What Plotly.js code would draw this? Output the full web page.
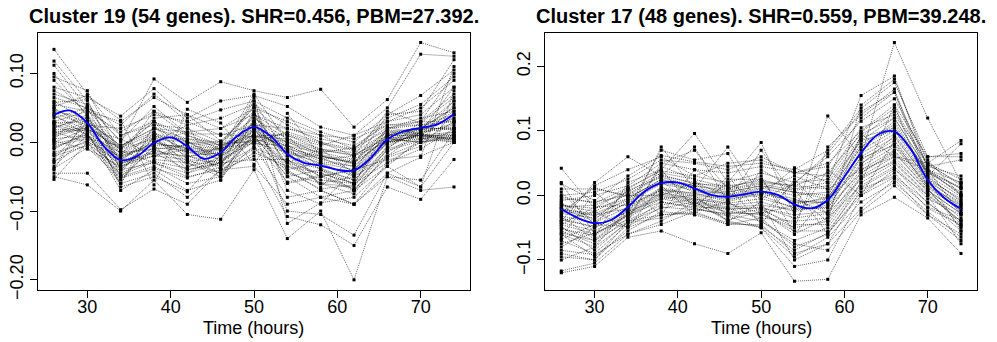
<!DOCTYPE html>
<html>
<head>
<meta charset="utf-8">
<script src="https://cdn.plot.ly/plotly-3.0.1.min.js"></script>
<style>html,body{margin:0;padding:0;background:#fff;}#chart{width:997px;height:342px;}</style>
</head>
<body>
<div id="chart"></div>
<script>
// Time points (hours)
const times = [26, 30, 34, 38, 42, 46, 50, 54, 58, 62, 66, 70, 74];

// Cluster 19: 54 gene profiles (values at each time point)
const cluster19 = [
  [0.135, 0.070, 0.010, 0.030, -0.020, -0.030, 0.040, 0.010, -0.040, -0.060, 0.010, 0.020, 0.050],
  [0.118, 0.060, -0.030, 0.020, 0.000, -0.020, 0.060, -0.020, -0.050, -0.070, -0.010, 0.030, 0.100],
  [0.112, 0.050, -0.040, 0.000, -0.010, -0.040, 0.030, -0.030, -0.060, -0.050, 0.000, 0.010, 0.060],
  [0.095, 0.075, -0.020, 0.045, 0.010, -0.010, 0.070, 0.000, -0.020, -0.030, 0.020, 0.025, 0.040],
  [0.090, 0.040, -0.050, -0.010, -0.030, -0.050, 0.020, -0.040, -0.070, -0.090, -0.030, 0.000, 0.030],
  [0.060, 0.030, -0.060, 0.010, -0.040, -0.030, 0.010, -0.050, -0.080, -0.070, -0.020, 0.015, 0.020],
  [0.055, 0.045, 0.030, 0.065, 0.040, 0.020, 0.050, 0.030, 0.010, -0.010, 0.030, 0.040, 0.080],
  [0.050, 0.020, -0.010, 0.005, 0.000, -0.010, 0.015, -0.010, -0.020, -0.030, 0.005, 0.010, 0.010],
  [0.045, 0.035, -0.025, 0.000, -0.015, -0.020, 0.025, -0.020, -0.035, -0.045, 0.000, 0.020, 0.035],
  [0.042, 0.025, -0.015, 0.010, -0.010, -0.015, 0.020, -0.015, -0.030, -0.040, 0.005, 0.015, 0.025],
  [0.040, 0.010, -0.035, -0.020, -0.025, -0.030, 0.005, -0.030, -0.045, -0.060, -0.010, 0.005, 0.015],
  [0.035, 0.050, 0.010, 0.025, 0.020, 0.000, 0.035, 0.005, -0.010, -0.020, 0.015, 0.020, 0.050],
  [0.030, 0.015, -0.020, -0.005, -0.005, -0.010, 0.010, -0.005, -0.025, -0.035, 0.010, 0.010, 0.005],
  [0.028, 0.030, -0.045, 0.015, -0.035, -0.025, 0.030, -0.060, -0.050, -0.040, 0.020, 0.030, 0.070],
  [0.025, 0.005, -0.005, 0.020, 0.005, 0.000, 0.000, 0.015, 0.000, -0.020, 0.000, 0.005, 0.000],
  [0.020, 0.040, -0.030, -0.015, -0.020, -0.035, 0.045, -0.070, -0.090, -0.040, 0.010, 0.010, 0.040],
  [0.018, 0.020, -0.010, 0.030, 0.010, -0.005, 0.020, 0.000, -0.015, -0.025, 0.010, 0.020, 0.020],
  [0.015, 0.000, -0.040, -0.030, -0.050, -0.040, -0.010, -0.040, -0.030, -0.050, -0.020, 0.000, 0.010],
  [0.010, 0.025, 0.020, 0.040, 0.030, 0.010, 0.025, 0.020, 0.005, -0.005, 0.025, 0.025, 0.030],
  [0.005, 0.010, -0.015, -0.010, -0.005, -0.020, 0.005, -0.010, -0.040, -0.055, 0.000, 0.010, 0.015],
  [0.000, 0.020, -0.025, 0.005, -0.020, -0.015, 0.040, -0.025, -0.060, -0.065, -0.005, 0.015, 0.045],
  [-0.005, 0.005, -0.030, -0.020, -0.010, -0.025, 0.000, -0.015, -0.020, -0.030, 0.005, 0.000, 0.005],
  [-0.010, 0.015, -0.070, -0.040, -0.070, -0.055, 0.015, -0.100, -0.105, -0.135, -0.045, -0.022, 0.110],
  [-0.015, 0.000, -0.020, 0.000, 0.015, -0.005, 0.010, 0.010, -0.010, -0.015, 0.015, 0.010, 0.000],
  [-0.020, -0.005, -0.045, -0.025, -0.030, -0.045, -0.015, -0.035, -0.045, -0.060, -0.030, -0.010, 0.020],
  [-0.025, 0.030, -0.005, 0.015, -0.015, -0.010, 0.030, -0.005, -0.025, -0.020, 0.010, 0.020, 0.060],
  [-0.030, 0.020, -0.055, -0.005, -0.045, -0.030, 0.020, -0.045, -0.060, -0.075, -0.015, 0.015, 0.080],
  [-0.035, 0.010, -0.050, -0.035, -0.060, -0.050, -0.005, -0.080, -0.070, -0.090, -0.050, -0.055, 0.015],
  [-0.040, 0.040, -0.010, 0.030, 0.000, 0.000, 0.050, 0.010, -0.005, 0.010, 0.030, 0.050, 0.090],
  [-0.045, -0.045, -0.098, -0.068, -0.090, -0.040, -0.020, -0.108, -0.120, -0.150, -0.065, -0.083, -0.025],
  [-0.050, -0.062, -0.100, -0.055, -0.105, -0.112, -0.040, -0.140, -0.100, -0.200, -0.050, -0.070, -0.065],
  [-0.054, 0.000, -0.060, -0.045, -0.080, -0.040, -0.035, -0.090, -0.080, -0.090, -0.045, -0.065, 0.000],
  [0.070, 0.055, 0.000, 0.092, 0.058, 0.088, 0.075, 0.065, 0.077, 0.022, 0.062, 0.145, 0.130],
  [0.080, 0.065, 0.038, 0.078, 0.035, 0.060, 0.068, 0.052, 0.022, 0.010, 0.050, 0.128, 0.125],
  [0.065, 0.050, 0.025, 0.070, 0.030, 0.047, 0.060, 0.035, 0.015, 0.000, 0.040, 0.068, 0.105],
  [0.030, 0.045, 0.015, 0.045, 0.025, 0.035, 0.055, 0.025, 0.000, -0.010, 0.035, 0.055, 0.095],
  [0.012, 0.030, -0.005, 0.020, 0.015, 0.020, 0.040, 0.020, 0.010, 0.005, 0.025, 0.030, 0.030],
  [0.002, -0.010, -0.035, -0.015, -0.040, -0.030, -0.025, -0.025, -0.050, -0.040, -0.025, -0.020, 0.000],
  [-0.008, 0.012, -0.060, 0.025, -0.025, -0.045, 0.010, -0.050, -0.040, -0.070, -0.035, 0.005, 0.010],
  [0.022, 0.035, -0.012, -0.030, -0.045, -0.020, 0.012, -0.030, -0.010, -0.045, 0.005, 0.000, 0.008],
  [0.048, 0.028, -0.018, 0.008, 0.005, -0.008, 0.025, -0.008, -0.028, -0.035, 0.008, 0.018, 0.022],
  [0.038, 0.018, -0.028, -0.008, -0.012, -0.018, 0.018, -0.012, -0.032, -0.048, -0.002, 0.012, 0.028],
  [0.008, 0.022, -0.008, 0.012, 0.002, -0.028, 0.008, 0.005, -0.018, -0.028, 0.012, 0.022, 0.018],
  [-0.002, 0.008, -0.022, -0.002, -0.008, -0.012, 0.028, -0.018, -0.022, -0.042, 0.002, 0.008, 0.012],
  [0.058, 0.062, -0.040, 0.000, 0.025, -0.055, 0.035, -0.002, -0.065, -0.020, 0.045, 0.028, 0.065],
  [0.100, 0.038, -0.065, -0.050, -0.072, -0.018, 0.065, -0.118, -0.088, -0.080, -0.035, -0.065, 0.075],
  [0.075, 0.048, -0.008, 0.035, 0.040, 0.002, 0.045, -0.035, -0.055, -0.060, 0.020, 0.035, 0.045],
  [-0.018, 0.002, -0.032, -0.012, -0.022, -0.008, -0.002, -0.005, -0.015, -0.008, 0.018, 0.012, 0.002],
  [0.015, 0.018, 0.005, -0.020, -0.002, -0.003, 0.002, 0.002, -0.012, -0.018, 0.006, 0.006, 0.006],
  [-0.028, -0.002, -0.038, 0.005, -0.028, -0.034, -0.008, -0.028, -0.038, -0.055, -0.008, 0.018, 0.034],
  [0.026, 0.012, -0.048, -0.028, -0.038, -0.002, 0.052, -0.042, -0.068, -0.062, -0.012, 0.002, 0.055],
  [0.004, 0.052, 0.002, 0.052, 0.012, 0.012, 0.008, 0.012, -0.002, -0.012, 0.022, 0.012, 0.004],
  [-0.038, -0.008, -0.052, -0.038, -0.052, -0.036, 0.002, -0.058, -0.048, -0.068, -0.022, -0.006, 0.040],
  [0.052, 0.068, 0.032, -0.062, 0.048, 0.028, -0.032, 0.042, -0.020, -0.032, 0.040, 0.045, 0.120]
];

// Cluster 17: 48 gene profiles
const cluster17 = [
  [0.042, -0.020, 0.010, 0.040, 0.096, 0.020, 0.082, -0.030, 0.123, 0.060, 0.237, 0.120, 0.020],
  [0.020, -0.060, -0.030, 0.075, 0.010, 0.075, 0.000, 0.043, 0.020, 0.155, 0.185, 0.040, -0.030],
  [-0.040, 0.020, 0.060, 0.030, 0.075, -0.010, 0.070, 0.000, -0.040, 0.140, 0.180, 0.050, 0.085],
  [-0.060, -0.080, -0.020, 0.070, 0.055, 0.065, -0.020, -0.050, 0.075, 0.125, 0.165, 0.030, 0.080],
  [-0.030, 0.015, 0.040, 0.060, 0.030, 0.050, 0.055, 0.035, 0.050, 0.100, 0.140, 0.060, 0.065],
  [-0.050, -0.070, -0.040, 0.050, 0.070, 0.010, 0.030, -0.060, 0.000, 0.090, 0.130, 0.045, 0.055],
  [-0.117, -0.105, -0.060, -0.040, -0.010, -0.040, -0.050, -0.110, -0.100, 0.000, 0.040, 0.000, -0.075],
  [-0.120, -0.110, -0.065, -0.055, -0.075, -0.090, -0.058, -0.133, -0.130, -0.030, -0.003, -0.035, -0.090],
  [0.010, 0.010, 0.000, 0.000, 0.020, 0.000, 0.010, 0.030, 0.010, 0.040, 0.060, 0.040, 0.020],
  [-0.020, -0.040, -0.010, 0.020, 0.010, 0.000, 0.005, -0.010, -0.010, 0.070, 0.100, 0.030, -0.010],
  [-0.025, -0.030, -0.020, 0.010, 0.000, -0.005, 0.000, -0.020, -0.020, 0.060, 0.090, 0.025, -0.015],
  [-0.035, -0.050, -0.025, 0.005, -0.005, -0.015, -0.010, -0.025, -0.015, 0.050, 0.080, 0.020, -0.020],
  [-0.045, -0.060, -0.030, 0.000, -0.010, -0.020, -0.020, -0.030, -0.025, 0.040, 0.070, 0.015, -0.025],
  [-0.015, -0.020, -0.005, 0.025, 0.015, 0.005, 0.015, 0.005, 0.000, 0.080, 0.110, 0.035, 0.005],
  [-0.005, -0.010, 0.000, 0.030, 0.020, 0.010, 0.020, 0.015, 0.010, 0.085, 0.120, 0.040, 0.010],
  [-0.070, -0.090, -0.045, -0.010, -0.020, -0.030, -0.040, -0.070, -0.050, 0.020, 0.050, 0.000, -0.040],
  [-0.055, -0.075, -0.035, -0.005, -0.015, -0.025, -0.030, -0.050, -0.040, 0.030, 0.060, 0.005, -0.035],
  [-0.090, -0.100, -0.050, -0.030, -0.025, -0.045, -0.045, -0.090, -0.075, 0.010, 0.030, -0.010, -0.055],
  [-0.010, -0.065, 0.020, 0.040, -0.020, 0.030, -0.030, 0.020, 0.060, 0.115, 0.150, 0.055, 0.000],
  [-0.065, 0.005, -0.035, 0.045, 0.025, -0.035, 0.040, 0.010, -0.060, 0.020, 0.140, 0.010, -0.045],
  [0.005, -0.045, 0.010, -0.030, 0.040, 0.015, -0.045, 0.025, -0.030, 0.095, 0.060, 0.050, 0.015],
  [-0.040, -0.025, -0.050, 0.015, -0.030, 0.025, 0.025, -0.040, 0.040, 0.000, 0.085, 0.010, -0.050],
  [-0.028, -0.035, -0.012, 0.018, 0.008, -0.008, 0.008, -0.012, -0.005, 0.065, 0.095, 0.028, -0.008],
  [-0.032, -0.042, -0.018, 0.012, 0.002, -0.002, 0.002, -0.008, -0.012, 0.055, 0.085, 0.022, -0.012],
  [-0.038, -0.048, -0.022, 0.008, -0.002, -0.012, -0.005, -0.018, -0.008, 0.045, 0.075, 0.018, -0.018],
  [-0.042, -0.055, -0.028, 0.002, -0.008, -0.018, -0.015, -0.022, -0.018, 0.035, 0.065, 0.012, -0.022],
  [-0.018, -0.015, 0.005, 0.035, 0.025, 0.012, 0.025, 0.010, 0.020, 0.090, 0.105, 0.035, 0.012],
  [-0.048, -0.085, -0.040, -0.020, -0.010, -0.038, -0.025, -0.060, -0.035, 0.015, 0.045, -0.005, -0.030],
  [-0.008, 0.000, 0.015, 0.050, 0.040, 0.035, 0.045, 0.035, 0.030, 0.105, 0.125, 0.050, 0.025],
  [-0.060, -0.095, -0.055, -0.025, -0.030, -0.045, -0.035, -0.080, -0.060, 0.005, 0.035, -0.020, -0.045],
  [0.000, 0.005, 0.025, 0.055, 0.050, 0.040, 0.060, 0.035, 0.045, 0.120, 0.160, 0.045, 0.030],
  [-0.080, -0.050, -0.025, -0.005, 0.000, -0.040, -0.010, -0.100, -0.075, -0.020, 0.025, -0.030, -0.060],
  [-0.022, -0.028, -0.008, 0.022, 0.012, 0.002, 0.012, 0.000, 0.005, 0.075, 0.115, 0.032, -0.002],
  [-0.052, -0.062, -0.032, -0.002, -0.012, -0.022, -0.018, -0.035, -0.028, 0.025, 0.055, 0.008, -0.028],
  [-0.012, -0.038, 0.008, 0.028, 0.015, 0.008, 0.018, 0.008, 0.015, 0.085, 0.100, 0.038, 0.002],
  [-0.045, -0.018, -0.015, 0.008, 0.004, -0.010, 0.005, -0.005, -0.028, 0.048, 0.092, 0.025, -0.005],
  [-0.075, -0.058, -0.038, -0.015, -0.005, -0.028, -0.022, -0.045, -0.045, 0.028, 0.052, 0.002, -0.040],
  [-0.002, -0.012, 0.012, 0.038, 0.030, 0.020, 0.035, 0.020, 0.025, 0.098, 0.135, 0.048, 0.018],
  [-0.033, -0.068, -0.028, 0.004, -0.006, -0.012, -0.028, -0.015, -0.002, 0.058, 0.078, 0.015, -0.015],
  [-0.100, -0.080, -0.042, -0.035, -0.020, -0.032, -0.050, -0.095, -0.065, -0.010, 0.020, -0.025, -0.065],
  [-0.020, -0.032, -0.005, 0.025, 0.005, 0.005, 0.015, 0.005, -0.005, 0.075, 0.105, 0.040, 0.000],
  [-0.058, -0.070, -0.030, -0.010, -0.018, -0.020, -0.035, -0.040, -0.035, 0.035, 0.068, 0.008, -0.028],
  [-0.015, -0.025, 0.002, 0.032, 0.018, 0.015, 0.022, 0.015, 0.035, 0.095, 0.120, 0.038, 0.012],
  [-0.068, -0.045, -0.048, -0.018, -0.022, -0.028, -0.028, -0.055, -0.055, 0.012, 0.042, -0.012, -0.048],
  [-0.026, 0.012, -0.002, 0.022, -0.015, 0.018, -0.005, 0.018, 0.065, 0.130, 0.160, 0.025, -0.055],
  [-0.085, -0.092, -0.060, -0.045, -0.025, -0.010, -0.040, -0.075, -0.085, -0.025, 0.015, -0.030, -0.070],
  [0.018, -0.008, 0.030, 0.062, 0.052, 0.045, 0.050, 0.040, 0.070, 0.135, 0.175, 0.060, 0.060],
  [-0.095, -0.100, -0.040, -0.030, -0.028, -0.042, -0.048, -0.085, -0.058, 0.000, 0.028, -0.018, -0.038]
];

// Smoothed cluster centres (blue curves), read every 2 hours
const smoothTimes = [26, 28, 30, 32, 34, 36, 38, 40, 42, 44, 46, 48, 50, 52, 54, 56, 58, 60, 62, 64, 66, 68, 70, 72, 74];
const smooth19 = [0.040, 0.046, 0.028, -0.006, -0.026, -0.020, -0.001, 0.007, -0.006, -0.024, -0.015, 0.009, 0.022, 0.009, -0.017, -0.030, -0.034, -0.040, -0.041, -0.023, 0.004, 0.016, 0.021, 0.026, 0.041];
const smooth17 = [-0.021, -0.035, -0.043, -0.038, -0.018, 0.006, 0.019, 0.020, 0.011, 0.001, -0.002, 0.002, 0.006, 0.001, -0.014, -0.020, -0.007, 0.029, 0.066, 0.094, 0.099, 0.071, 0.024, -0.004, -0.021];

const titles = [
  'Cluster 19 (54 genes). SHR=0.456, PBM=27.392.',
  'Cluster 17 (48 genes). SHR=0.559, PBM=39.248.'
];
const xTitle = 'Time (hours)';

const traces = [];
function addCluster(rows, xa, ya) {
  rows.forEach(r => traces.push({
    x: times, y: r, xaxis: xa, yaxis: ya, type: 'scatter', mode: 'lines+markers',
    line: {color: 'rgba(0,0,0,0.85)', width: 0.7, dash: '1px,1px'},
    marker: {color: '#000', size: 3, symbol: 'square'},
    hoverinfo: 'skip', showlegend: false
  }));
}
addCluster(cluster19, 'x', 'y');
addCluster(cluster17, 'x2', 'y2');
traces.push({x: smoothTimes, y: smooth19, xaxis: 'x', yaxis: 'y', type: 'scatter', mode: 'lines',
  line: {color: '#0000ff', width: 1.8, shape: 'spline', smoothing: 1}, showlegend: false});
traces.push({x: smoothTimes, y: smooth17, xaxis: 'x2', yaxis: 'y2', type: 'scatter', mode: 'lines',
  line: {color: '#0000ff', width: 1.8, shape: 'spline', smoothing: 1}, showlegend: false});

const font = {family: '"Liberation Sans", Arial, sans-serif', color: '#000'};
const tickFont = {family: font.family, size: 18, color: '#000'};
function xAxis(domain, anchor) {
  return {domain: domain, anchor: anchor, range: [24.08, 75.92], tickvals: [30, 40, 50, 60, 70],
    ticks: 'outside', ticklen: 7, tickwidth: 1, tickcolor: '#000', showline: true, mirror: true,
    linecolor: '#000', linewidth: 1, showgrid: false, zeroline: false, tickfont: tickFont,
    ticklabelstandoff: -7};
}
function yAxis(anchor, range, vals, fmt) {
  return {domain: [0.152, 0.9035], anchor: anchor, range: range, tickvals: vals, tickformat: fmt,
    ticks: 'outside', ticklen: 7, tickwidth: 1, tickcolor: '#000', showline: true, mirror: true,
    linecolor: '#000', linewidth: 1, showgrid: false, zeroline: false, tickfont: tickFont, tickangle: -90};
}

const centres = [254/997, 761/997];
const annotations = [];
titles.forEach((t, i) => annotations.push({
  text: '<b>' + t + '</b>', xref: 'paper', yref: 'paper',
  x: centres[i], y: 1 - 16/342, xanchor: 'center', yanchor: 'middle',
  showarrow: false, font: {family: font.family, size: 20, color: '#000'}
}));
centres.forEach(c => annotations.push({
  text: xTitle, xref: 'paper', yref: 'paper', x: c, y: 1 - 328/342,
  xanchor: 'center', yanchor: 'middle', showarrow: false, borderpad: 0,
  font: {family: font.family, size: 18, color: '#000'}
}));

const layout = {
  width: 997, height: 342, autosize: false,
  margin: {l: 0, r: 0, t: 0, b: 0},
  paper_bgcolor: '#fff', plot_bgcolor: '#fff', font: font, showlegend: false,
  xaxis: xAxis([38/997, 470/997], 'y'),
  yaxis: yAxis('x', [-0.2148, 0.1588], [-0.2, -0.1, 0, 0.1], '.2f'),
  xaxis2: xAxis([545.3/997, 977/997], 'y2'),
  yaxis2: yAxis('x2', [-0.1466, 0.2518], [-0.1, 0, 0.1, 0.2], '.1f'),
  annotations: annotations
};

Plotly.newPlot('chart', traces, layout, {staticPlot: true, displayModeBar: false});
</script>
</body>
</html>
